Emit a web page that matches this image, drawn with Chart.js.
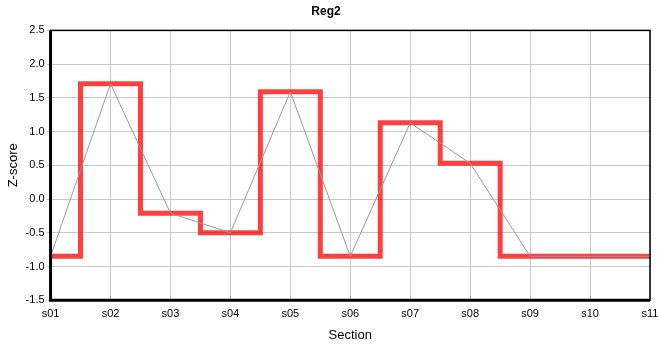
<!DOCTYPE html>
<html>
<head>
<meta charset="utf-8">
<script src="https://cdn.jsdelivr.net/npm/chart.js@4/dist/chart.umd.min.js"></script>
<style>
  html, body { margin: 0; padding: 0; background: #fff; }
  #wrap { width: 660px; height: 360px; }
</style>
</head>
<body>
<div id="wrap"><canvas id="chart"></canvas></div>
<script>
// Data
const sections = ['s01', 's02', 's03', 's04', 's05', 's06', 's07', 's08', 's09', 's10', 's11'];
const zScores = [-0.85, 1.71, -0.21, -0.50, 1.59, -0.85, 1.13, 0.53, -0.85, -0.85, -0.85];
const yTicks = [-1.5, -1.0, -0.5, 0.0, 0.5, 1.0, 1.5, 2.0, 2.5];

Chart.defaults.font.family = '"Liberation Sans", Arial, sans-serif';
Chart.defaults.color = '#000';

// box border round the plot area
const frame = {
  id: 'frame',
  afterDraw(chart) {
    const { ctx, chartArea: a } = chart;
    ctx.save();
    ctx.strokeStyle = '#000';
    ctx.lineWidth = 1.5;
    ctx.strokeRect(a.left, a.top, a.right - a.left, a.bottom - a.top);
    ctx.lineWidth = 3;
    ctx.beginPath();
    ctx.moveTo(a.left, a.top);
    ctx.lineTo(a.left, a.bottom);
    ctx.lineTo(a.right, a.bottom);
    ctx.stroke();
    ctx.restore();
  }
};

new Chart(document.getElementById('chart'), {
  type: 'line',
  data: {
    labels: sections,
    datasets: [
      {
        label: 'gray',
        data: zScores,
        borderColor: '#999',
        borderWidth: 1,
        pointRadius: 0,
        tension: 0,
        order: 1
      },
      {
        label: 'step',
        data: zScores,
        stepped: 'middle',
        borderColor: 'rgba(255, 0, 0, 0.75)',
        borderWidth: 5,
        pointRadius: 0,
        order: 2
      }
    ]
  },
  options: {
    responsive: true,
    maintainAspectRatio: false,
    animation: false,
    layout: { padding: { left: 2, right: 10, top: 0, bottom: 13 } },
    plugins: {
      legend: { display: false },
      tooltip: { enabled: false },
      title: {
        display: true,
        text: 'Reg2',
        font: { size: 12, weight: 'bold' },
        padding: { top: 4, bottom: 12 }
      }
    },
    scales: {
      x: {
        offset: false,
        afterFit(scale) {
          // let the last label run past the plot edge, as in the reference
          scale.paddingRight = 0;
        },
        grid: { color: '#c8c8c8', drawTicks: false },
        border: { display: false },
        ticks: { font: { size: 11 }, padding: 7, maxRotation: 0, autoSkip: false },
        title: { display: true, text: 'Section', font: { size: 13 }, padding: { top: 0 } }
      },
      y: {
        min: -1.5,
        max: 2.5,
        afterBuildTicks(axis) {
          axis.ticks = yTicks.map(v => ({ value: v }));
        },
        grid: { color: '#c8c8c8', tickLength: 4 },
        border: { display: false },
        ticks: {
          font: { size: 11 },
          padding: 2,
          callback: v => Number(v).toFixed(1)
        },
        title: { display: true, text: 'Z-score', font: { size: 13 }, padding: { bottom: 2 } }
      }
    }
  },
  plugins: [frame]
});
</script>
</body>
</html>
